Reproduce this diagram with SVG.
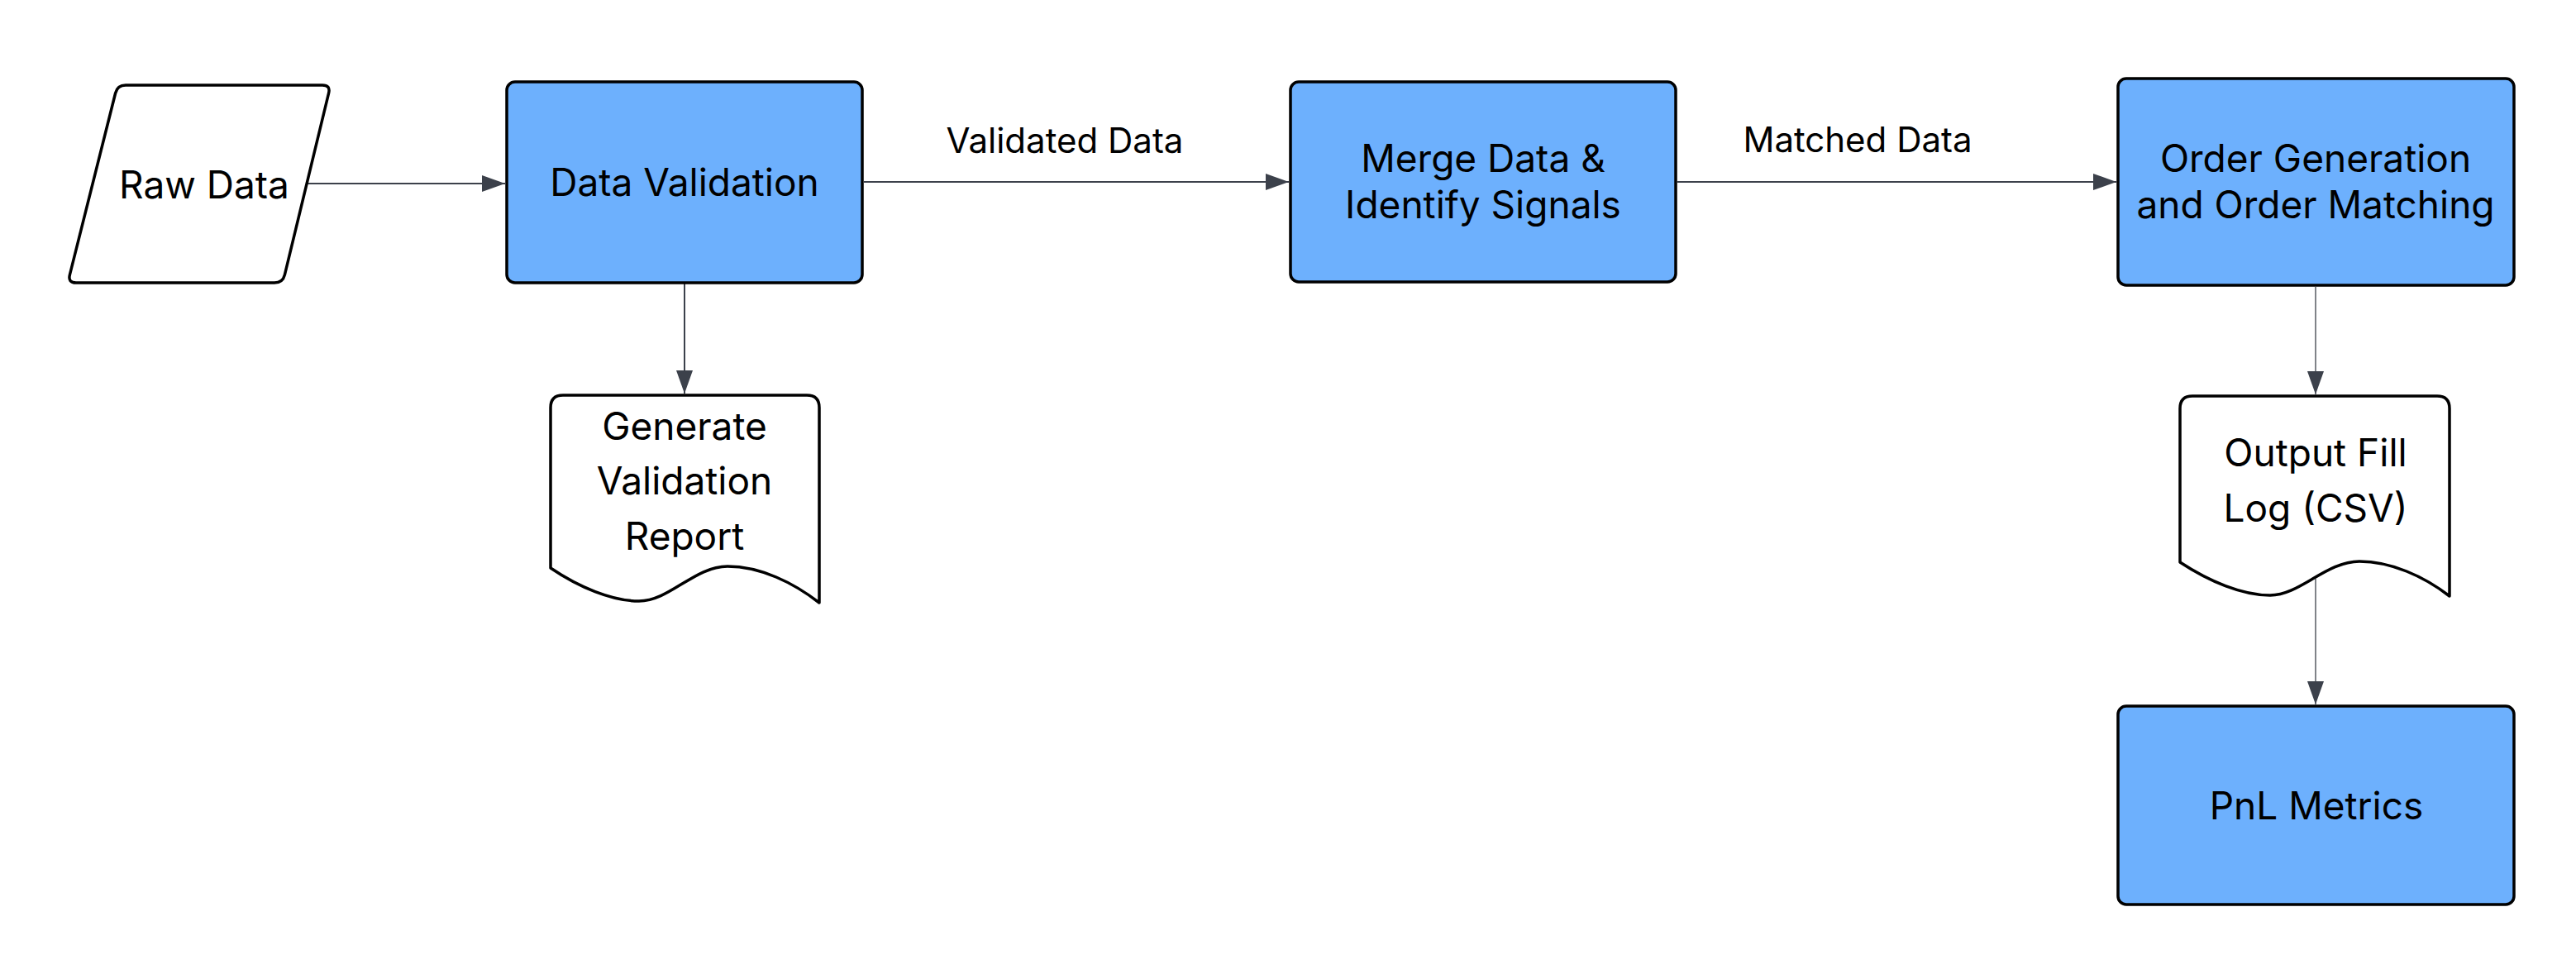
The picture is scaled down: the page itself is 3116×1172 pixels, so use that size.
<svg xmlns="http://www.w3.org/2000/svg" width="3116" height="1172" viewBox="0 0 3116 1172">
<defs>
<style>
.node{fill:#6db0fd;stroke:#000;stroke-width:3.5}
.doc{fill:#fff;stroke:#000;stroke-width:3.5;stroke-linejoin:round}
.t{font-family:Inter,"Noto Sans",sans-serif;font-size:46px;fill:#000;text-anchor:middle}
.lbl{font-family:Inter,"Noto Sans",sans-serif;font-size:42px;fill:#000;text-anchor:middle}
.e{stroke:#3c414b;fill:none;stroke-width:2}
.thin{stroke-width:1.3}
</style>
<marker id="ah" viewBox="0 0 28 20" refX="28" refY="10" markerWidth="28" markerHeight="20" markerUnits="userSpaceOnUse" orient="auto">
<path d="M0,0 L28,10 L0,20 Z" fill="#3c414b"/>
</marker>
</defs>
<rect width="3116" height="1172" fill="#fff"/>
<g id="connectors">
<path class="e" d="M372,222 L611,222" marker-end="url(#ah)"/>
<path class="e" d="M1045,220 L1559,220" marker-end="url(#ah)"/>
<text class="lbl" x="1288" y="185">Validated Data</text>
<path class="e" d="M2029,220 L2560,220" marker-end="url(#ah)"/>
<text class="lbl" x="2247" y="184">Matched Data</text>
<path class="e" d="M828,343 L828,476" marker-end="url(#ah)"/>
<path class="e thin" d="M2801,347 L2801,477" marker-end="url(#ah)"/>
<path class="e thin" d="M2801,700 L2801,852" marker-end="url(#ah)"/>
</g>
<g id="raw-data">
<path class="doc" d="M152,103 L390,103 Q400,103 397.6,112.7 L344.4,332.3 Q342,342 332,342 L92,342 Q82,342 84.4,332.3 L139.6,112.7 Q142,103 152,103 Z"/>
<text class="t" x="247" y="240">Raw Data</text>
</g>
<g id="data-validation">
<rect class="node" x="613" y="99" width="430" height="243" rx="10"/>
<text class="t" x="828" y="237">Data Validation</text>
</g>
<g id="validation-report">
<path class="doc" d="M681,478 L976,478 Q991,478 991,493 L991,729 C960,705 920,685 880,685 C840,685 810,727 773,727 C740,727 700,710 666,687 L666,493 Q666,478 681,478 Z"/>
<text class="t" x="828" y="532">Generate</text>
<text class="t" x="828" y="598">Validation</text>
<text class="t" x="828" y="665">Report</text>
</g>
<g id="merge-data">
<rect class="node" x="1561" y="99" width="466" height="242" rx="10"/>
<text class="t" x="1794" y="208">Merge Data &amp;</text>
<text class="t" x="1794" y="264">Identify Signals</text>
</g>
<g id="order-generation">
<rect class="node" x="2562" y="95" width="479" height="250" rx="10"/>
<text class="t" x="2801" y="208">Order Generation</text>
<text class="t" x="2801" y="264">and Order Matching</text>
</g>
<g id="fill-log">
<path class="doc" d="M2652,479 L2948,479 Q2963,479 2963,494 L2963,721 C2932,697 2892,679 2854,679 C2814,679 2782,720 2746,720 C2712,720 2672,703 2637,680 L2637,494 Q2637,479 2652,479 Z"/>
<text class="t" x="2801" y="564">Output Fill</text>
<text class="t" x="2801" y="631">Log (CSV)</text>
</g>
<g id="pnl-metrics">
<rect class="node" x="2562" y="854" width="479" height="240" rx="10"/>
<text class="t" x="2802" y="991">PnL Metrics</text>
</g>
</svg>
